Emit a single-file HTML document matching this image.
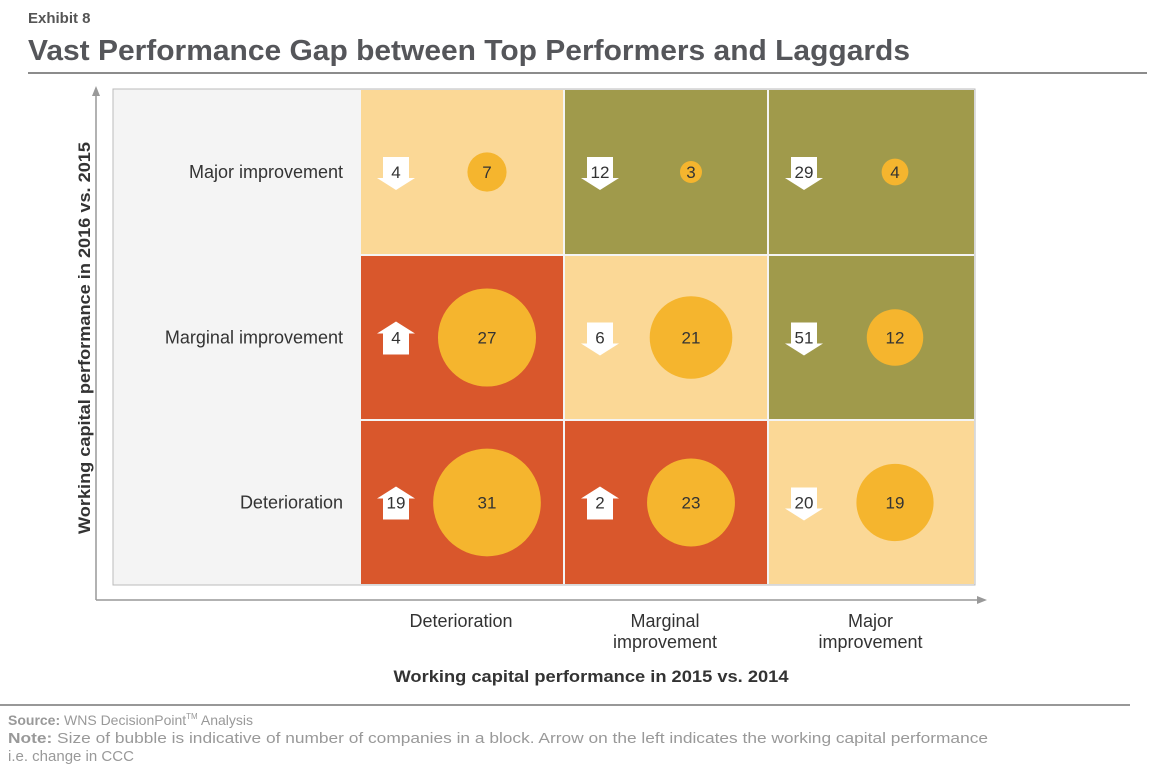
<!DOCTYPE html>
<html><head><meta charset="utf-8"><style>
body{margin:0;background:#fff;width:1150px;height:776px;overflow:hidden;font-family:"Liberation Sans",sans-serif;}
svg text{font-family:"Liberation Sans",sans-serif;}
</style></head><body>
<svg id="c" width="1150" height="776" viewBox="0 0 1150 776">
<text x="28" y="23" font-size="15" font-weight="bold" fill="#555">Exhibit 8</text>
<text x="28" y="60" font-size="29" font-weight="bold" fill="#55565a" textLength="882" lengthAdjust="spacingAndGlyphs">Vast Performance Gap between Top Performers and Laggards</text>
<line x1="28" y1="73" x2="1147" y2="73" stroke="#666" stroke-width="1.5"/>
<rect x="113" y="89" width="862" height="496" fill="#f4f4f4" stroke="#bbb" stroke-width="1"/>
<g id="cells"></g>
<line x1="96" y1="600" x2="96" y2="92" stroke="#999" stroke-width="1.5"/>
<polygon points="96,86 92,96 100,96" fill="#999"/>
<line x1="96" y1="600" x2="980" y2="600" stroke="#999" stroke-width="1.5"/>
<polygon points="987,600 977,596 977,604" fill="#999"/>
<text transform="translate(90,338) rotate(-90)" text-anchor="middle" font-size="16.5" font-weight="bold" fill="#333" textLength="392" lengthAdjust="spacingAndGlyphs">Working capital performance in 2016 vs. 2015</text>
<text x="591" y="682" text-anchor="middle" font-size="16.5" font-weight="bold" fill="#333" textLength="395" lengthAdjust="spacingAndGlyphs">Working capital performance in 2015 vs. 2014</text>
<line x1="0" y1="705" x2="1130" y2="705" stroke="#777" stroke-width="1.5"/>
<text x="8" y="725" font-size="14" fill="#999"><tspan font-weight="bold">Source:</tspan> WNS DecisionPoint<tspan font-size="8" dy="-6">TM</tspan><tspan dy="6"> Analysis</tspan></text>
<text x="8" y="743" font-size="15" fill="#999" textLength="980" lengthAdjust="spacingAndGlyphs"><tspan font-weight="bold">Note:</tspan> Size of bubble is indicative of number of companies in a block. Arrow on the left indicates the working capital performance</text>
<text x="8" y="761" font-size="15" fill="#999">i.e. change in CCC</text>
</svg>
<script>
const rowLabels = ["Major improvement","Marginal improvement","Deterioration"];
const colLabels = [["Deterioration"],["Marginal","improvement"],["Major","improvement"]];
const cellColor = [["peach","olive","olive"],["red","peach","olive"],["red","red","peach"]];
const arrowValues = [[4,12,29],[4,6,51],[19,2,20]];
const arrowDir = [["down","down","down"],["up","down","down"],["up","up","down"]];
const bubbleValues = [[7,3,4],[27,21,12],[31,23,19]];

const palette={peach:"#fbd896",olive:"#a09a4b",red:"#d9572c"};
const NS="http://www.w3.org/2000/svg";
const g=document.getElementById('cells');
const svg=document.getElementById('c');
const colX=[360,564,768,975], rowY=[89,255,420,585];
function colCenter(i){return (colX[i]+colX[i+1])/2;}
function rowCenter(j){return (rowY[j]+rowY[j+1])/2;}
function radius(v){return 11*Math.pow(v/3,0.68);}
function mk(tag,attrs,parent){const e=document.createElementNS(NS,tag);for(const k in attrs)e.setAttribute(k,attrs[k]);(parent||g).appendChild(e);return e;}
for(let r=0;r<3;r++){
  const t=mk('text',{x:343,y:rowCenter(r)+6,'text-anchor':'end','font-size':18,fill:'#333'});
  t.textContent=rowLabels[r];
  
  
  for(let c=0;c<3;c++){
    const x0=colX[c],cy=rowCenter(r);
    const rect=mk('rect',{x:x0+1,y:rowY[r]+1,width:colX[c+1]-x0-2,height:rowY[r+1]-rowY[r]-2,fill:palette[cellColor[r][c]]});
    
    
    const ax=x0+36;
    let pts;
    if(arrowDir[r][c]==="down"){
      pts=[[ax-13,cy-15],[ax+13,cy-15],[ax+13,cy+6],[ax+19,cy+6],[ax,cy+18],[ax-19,cy+6],[ax-13,cy+6]];
    } else {
      pts=[[ax-13,cy+17],[ax+13,cy+17],[ax+13,cy-4],[ax+19,cy-4],[ax,cy-16],[ax-19,cy-4],[ax-13,cy-4]];
    }
    const ar=mk('polygon',{points:pts.map(p=>p.join(',')).join(' '),fill:'#fff'});
    
    
    const at=mk('text',{x:ax,y:cy+6,'text-anchor':'middle','font-size':17,fill:'#333'});
    at.textContent=arrowValues[r][c];
    
    
    const bx=x0+127;
    const b=mk('circle',{cx:bx,cy:cy,r:radius(bubbleValues[r][c]),fill:'#f5b52e'});
    
    
    const bt=mk('text',{x:bx,y:cy+6,'text-anchor':'middle','font-size':17,fill:'#333'});
    bt.textContent=bubbleValues[r][c];
    
    
  }
}
for(let c=0;c<3;c++){
  colLabels[c].forEach((line,i)=>{
    const t=mk('text',{x:colCenter(c)-1,y:627+i*21,'text-anchor':'middle','font-size':18,fill:'#333'},svg);
    t.textContent=line;
    
    
  });
}
</script>
</body></html>
